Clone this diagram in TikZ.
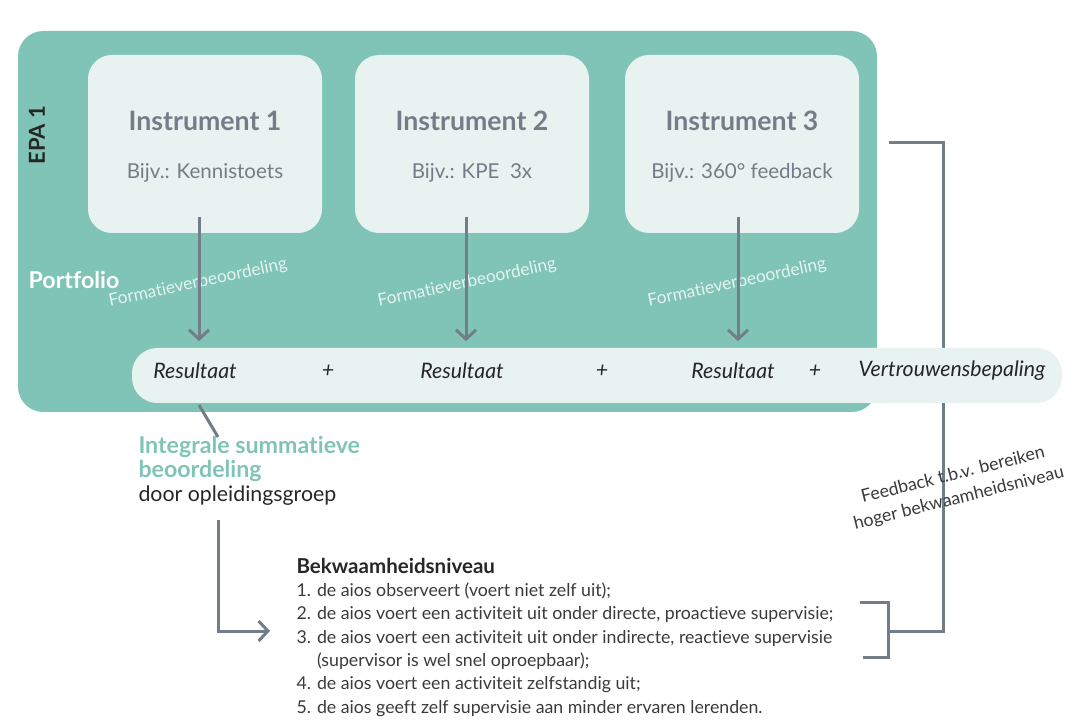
\documentclass[tikz,border=0pt]{standalone}
\usepackage{fontspec}
\setmainfont{Lato}[Ligatures=NoCommon]
\usepackage{xcolor}
\usetikzlibrary{positioning, arrows.meta}

\definecolor{epateal}{HTML}{80C4B7}
\definecolor{boxfill}{HTML}{E8F2F1}
\definecolor{slate}{HTML}{727D87}
\definecolor{inktext}{HTML}{262626}
\definecolor{listtext}{HTML}{3A3A3A}

\begin{document}
\begin{tikzpicture}[x=0.75pt, y=-0.75pt, line width=2.25pt,
    panel/.style={rectangle, rounded corners=19pt, fill=epateal, minimum width=644.25pt, minimum height=285.75pt},
    instbox/.style={rectangle, rounded corners=18pt, fill=boxfill, minimum width=175.5pt, minimum height=133.5pt},
    insttitle/.style={text=slate, font=\fontsize{20}{23}\selectfont\bfseries},
    instsub/.style={text=slate, font=\fontsize{15.4}{18}\selectfont},
    formtext/.style={text=white, opacity=0.8, rotate=12, font=\fontsize{13}{15}\selectfont},
    strip/.style={rectangle, rounded corners=19pt, fill=boxfill, minimum width=697.5pt, minimum height=41.25pt},
    restext/.style={text=inktext, font=\fontsize{16}{18}\selectfont\itshape},
    link/.style={draw=slate},
    arr/.style={draw=slate, -{Straight Barb[length=7pt, width=15pt]}}]
    \useasboundingbox (0,0) rectangle (1075,723);

    % EPA panel
    \node[panel] (epa) at (447.5,221.5) {};
    \node[rotate=90, text=inktext, font=\fontsize{16.5}{18}\selectfont\bfseries] (epalabel) at (37,135) {EPA 1};
    \node[text=white, font=\fontsize{17.4}{19}\selectfont\bfseries] (portfolio) at (74,280) {Portfolio};

    % Instruments
    \node[instbox] (inst1) at (205,144) {};
    \node[insttitle] (title1) at (205,121) {Instrument 1};
    \node[instsub] (sub1) at (205,173) {Bijv.: Kennistoets};

    \node[instbox] (inst2) at (472,144) {};
    \node[insttitle] (title2) at (472,121) {Instrument 2};
    \node[instsub] (sub2) at (472,173) {Bijv.: KPE~~3x};

    \node[instbox] (inst3) at (742,144) {};
    \node[insttitle] (title3) at (742,121) {Instrument 3};
    \node[instsub] (sub3) at (742,173) {Bijv.: 360° feedback};

    % Formative labels
    \node[formtext] (form1) at (198,283) {Formatieverbeoordeling};
    \node[formtext] (form2) at (467,283) {Formatieverbeoordeling};
    \node[formtext] (form3) at (737,283) {Formatieverbeoordeling};

    % Feedback loop
    \coordinate (fbtop) at (889,143);
    \coordinate (fbcorner) at (943,143);
    \coordinate (brtop) at (860,602);
    \coordinate (brmid) at (888,631);
    \coordinate (brbot) at (863,657);
    \draw[link] (brmid) -| (fbcorner) -- (fbtop);
    \draw[link] (brtop) -| (brmid) |- (brbot);

    % Results strip
    \node[strip] (strip) at (597,375.5) {};
    \node[restext] (res1) at (195,371) {Resultaat};
    \node[restext] (plus1) at (328,371) {+};
    \node[restext] (res2) at (462,371) {Resultaat};
    \node[restext] (plus2) at (602,371) {+};
    \node[restext] (res3) at (733,371) {Resultaat};
    \node[restext] (plus3) at (815,371) {+};
    \node[restext] (trust) at (952,371) {Vertrouwensbepaling};

    % Instrument arrows
    \coordinate (a1) at (199,217);
    \coordinate (a2) at (466,217);
    \coordinate (a3) at (738,217);
    \draw[arr, shorten >=4pt] (a1) -- (a1 |- strip.north);
    \draw[arr, shorten >=4pt] (a2) -- (a2 |- strip.north);
    \draw[arr, shorten >=4pt] (a3) -- (a3 |- strip.north);

    % Summative assessment
    \node[anchor=base west, inner sep=0pt, align=left, text=inktext, font=\fontsize{16}{18}\selectfont] (summ) at (137,502)
        {\textcolor{epateal}{\fontsize{17.4}{18}\selectfont\bfseries Integrale summatieve}\\
         \textcolor{epateal}{\fontsize{17.4}{18}\selectfont\bfseries beoordeling}\\
         door opleidingsgroep};
    \coordinate (diagtop) at (199,405);
    \coordinate (diagbot) at (218,437);
    \draw[link] (diagtop) -- (diagbot);

    \coordinate (sumstart) at (218,520);
    \coordinate (lvlin) at (270,631);
    \draw[arr] (sumstart) |- (lvlin);

    % Competence levels
    \node[anchor=base west, inner sep=0pt, align=left, text=listtext, font=\fontsize{13.3}{17.5}\selectfont] (levels) at (295,713)
        {{\fontsize{15.4}{17.5}\selectfont\bfseries\color{inktext}Bekwaamheidsniveau}\\
         1. de aios observeert (voert niet zelf uit);\\
         2. de aios voert een activiteit uit onder directe, proactieve supervisie;\\
         3. de aios voert een activiteit uit onder indirecte, reactieve supervisie\\
         \phantom{3. }(supervisor is wel snel oproepbaar);\\
         4. de aios voert een activiteit zelfstandig uit;\\
         5. de aios geeft zelf supervisie aan minder ervaren lerenden.};

    \node[rotate=14, align=center, text=listtext, font=\fontsize{13.3}{18}\selectfont] (feedback) at (956,487)
        {Feedback t.b.v. bereiken\\hoger bekwaamheidsniveau};
\end{tikzpicture}
\end{document}
